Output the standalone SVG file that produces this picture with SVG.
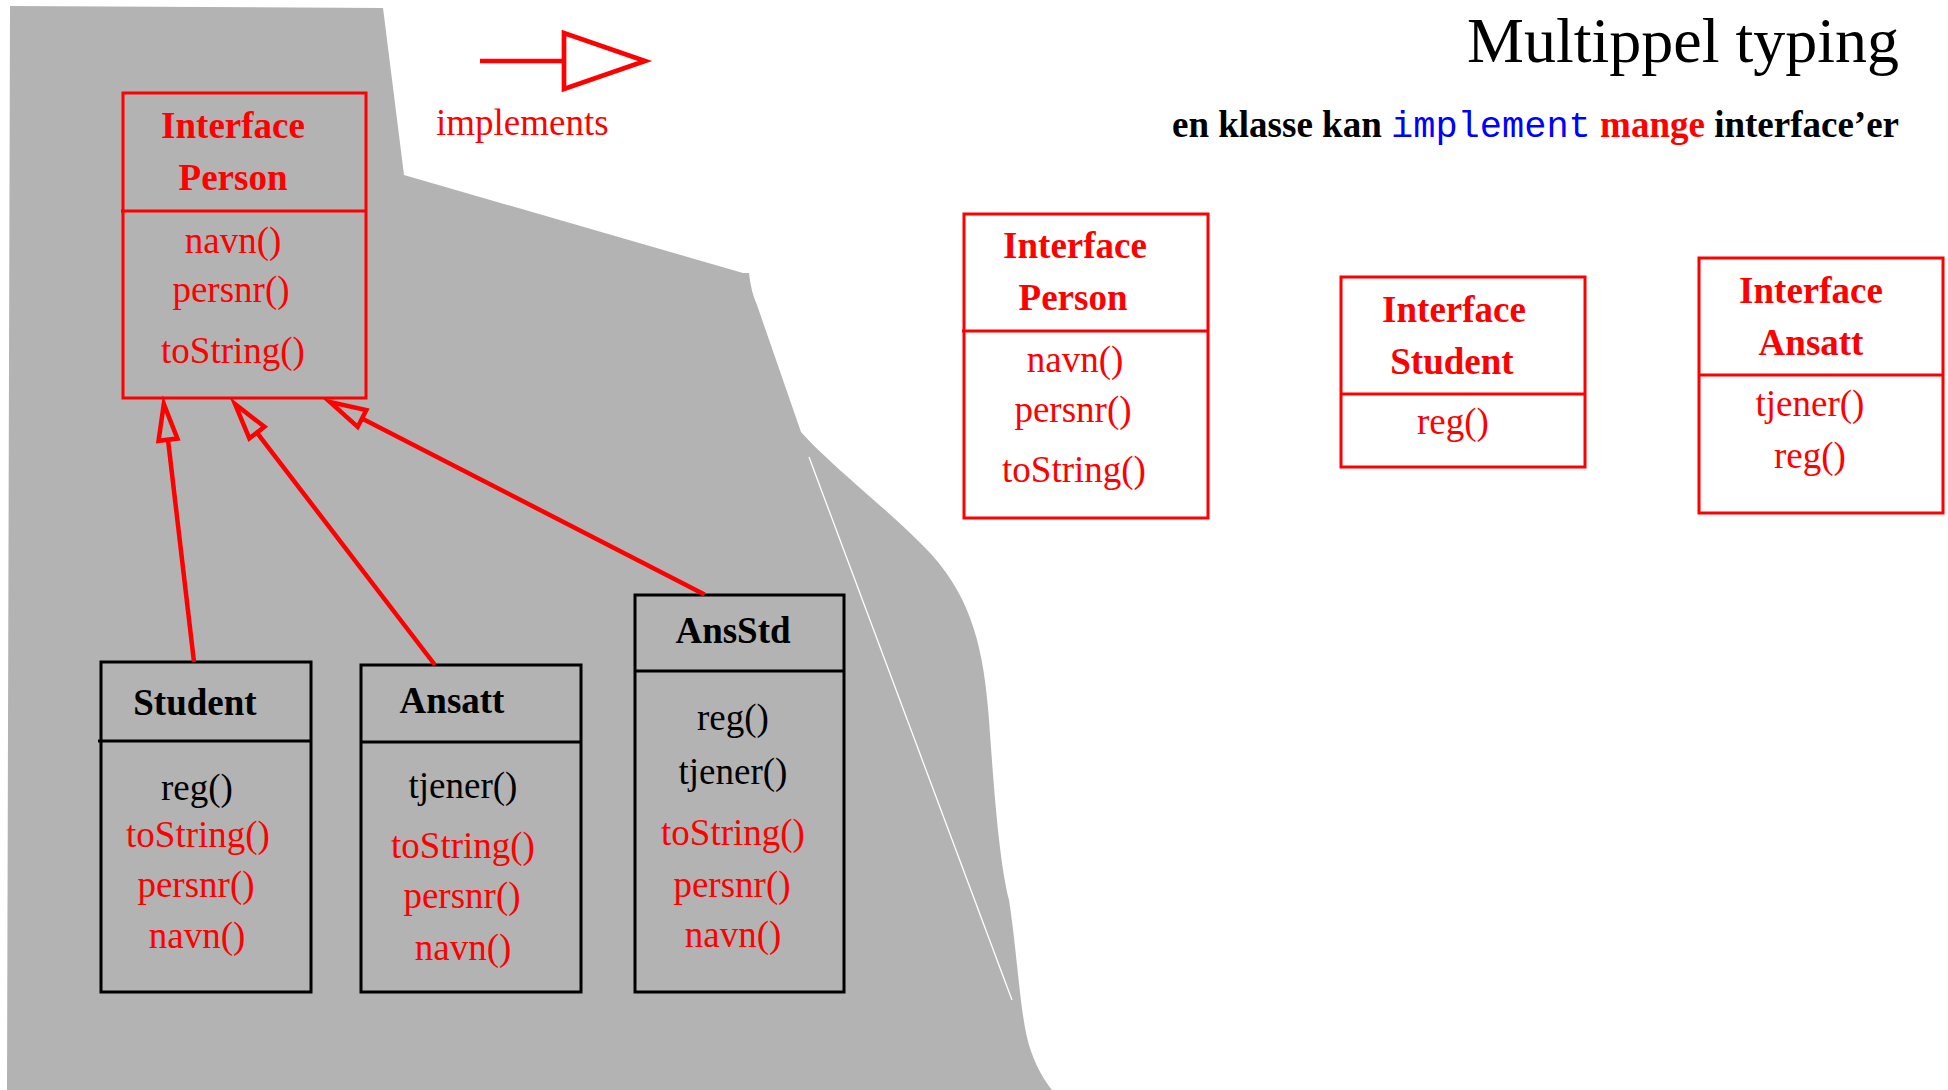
<svg xmlns="http://www.w3.org/2000/svg" width="1948" height="1090" viewBox="0 0 1948 1090">
  <style>
    text { font-family: "Liberation Serif", "Times New Roman", serif; font-size: 37px; }
    .c { text-anchor: middle; }
    .b { font-weight: bold; }
    .red { fill: #ff0000; }
    .blk { fill: #000000; }
    .ibox { fill: none; stroke: #ff0000; stroke-width: 3; }
    .iboxw { fill: #ffffff; stroke: #ff0000; stroke-width: 3; }
    .cbox { fill: none; stroke: #000000; stroke-width: 3; }
    .rdiv { stroke: #ff0000; stroke-width: 3; }
    .kdiv { stroke: #000000; stroke-width: 3; }
    .impl { fill: none; stroke: #ff0000; stroke-width: 4.5; }
  </style>
  <defs>
    <marker id="hollow" markerUnits="userSpaceOnUse" markerWidth="50" markerHeight="30" refX="0" refY="15" orient="auto" overflow="visible">
      <path d="M0,5.5 L36,15 L0,24.5 Z" fill="none" stroke="#ff0000" stroke-width="4.5" stroke-linejoin="miter"/>
    </marker>
  </defs>

  <rect width="1948" height="1090" fill="#ffffff"/>

  <!-- grey backdrop behind the class hierarchy -->
  <path d="M10,6 L383,8 L404,175 L743,273 L749,273 Q751,292 757,305 L801,432
           C830,465 895,515 932,555 C972,600 984,650 989,720
           C994,790 999,860 1009,900 C1017,950 1020,1015 1029,1045
           C1035,1065 1044,1080 1052,1090 L7,1090 Z" fill="#b3b3b3"/>
  <path d="M809,457 L1012,1000" stroke="#ffffff" stroke-width="1.3" fill="none"/>

  <!-- title -->
  <text x="1899" y="62" style="font-size:64px; text-anchor:end" class="blk">Multippel typing</text>
  <text x="1899" y="137" style="text-anchor:end" class="b"><tspan fill="#000000">en klasse kan </tspan><tspan fill="#0000ff" style="font-family:'Liberation Mono','Courier New',monospace; font-weight:normal">implement</tspan><tspan fill="#ff0000"> mange </tspan><tspan fill="#000000">interface’er</tspan></text>

  <!-- legend -->
  <g id="legend">
    <line x1="480" y1="61" x2="564" y2="61" stroke="#ff0000" stroke-width="4.7"/>
    <polygon points="564,33 564,89 645,61" fill="none" stroke="#ff0000" stroke-width="4.7"/>
    <text x="436" y="135" class="red">implements</text>
  </g>

  <!-- interface Person (hierarchy) -->
  <g id="iperson-left">
    <rect x="123" y="93" width="243" height="305" class="ibox"/>
    <line x1="121" y1="211" x2="366" y2="211" class="rdiv"/>
    <text x="233" y="138" class="c b red">Interface</text>
    <text x="233" y="190" class="c b red">Person</text>
    <text x="233" y="253" class="c red">navn()</text>
    <text x="231" y="302" class="c red">persnr()</text>
    <text x="233" y="363" class="c red">toString()</text>
  </g>

  <!-- class Student -->
  <g id="student">
    <rect x="101" y="662" width="210" height="330" class="cbox"/>
    <line x1="98" y1="741" x2="311" y2="741" class="kdiv"/>
    <text x="195" y="715" class="c b blk">Student</text>
    <text x="197" y="800" class="c blk">reg()</text>
    <text x="198" y="847" class="c red">toString()</text>
    <text x="196" y="897" class="c red">persnr()</text>
    <text x="197" y="948" class="c red">navn()</text>
  </g>

  <!-- class Ansatt -->
  <g id="ansatt">
    <rect x="361" y="665" width="220" height="327" class="cbox"/>
    <line x1="361" y1="742" x2="581" y2="742" class="kdiv"/>
    <text x="452" y="713" class="c b blk">Ansatt</text>
    <text x="463" y="798" class="c blk">tjener()</text>
    <text x="463" y="858" class="c red">toString()</text>
    <text x="462" y="908" class="c red">persnr()</text>
    <text x="463" y="960" class="c red">navn()</text>
  </g>

  <!-- class AnsStd -->
  <g id="ansstd">
    <rect x="635" y="595" width="209" height="397" class="cbox"/>
    <line x1="635" y1="671" x2="844" y2="671" class="kdiv"/>
    <text x="733" y="643" class="c b blk">AnsStd</text>
    <text x="733" y="730" class="c blk">reg()</text>
    <text x="733" y="784" class="c blk">tjener()</text>
    <text x="733" y="845" class="c red">toString()</text>
    <text x="732" y="897" class="c red">persnr()</text>
    <text x="733" y="947" class="c red">navn()</text>
  </g>

  <!-- implements connectors -->
  <g id="connectors">
    <line x1="194" y1="662" x2="168" y2="439.7" class="impl" marker-end="url(#hollow)"/>
    <line x1="435" y1="665" x2="256.9" y2="432.6" class="impl" marker-end="url(#hollow)"/>
    <line x1="704.5" y1="594.5" x2="362" y2="418.5" class="impl" marker-end="url(#hollow)"/>
  </g>

  <!-- interface Person -->
  <g id="iperson">
    <rect x="964" y="214" width="244" height="304" class="iboxw"/>
    <line x1="962" y1="331" x2="1208" y2="331" class="rdiv"/>
    <text x="1075" y="258" class="c b red">Interface</text>
    <text x="1073" y="310" class="c b red">Person</text>
    <text x="1075" y="372" class="c red">navn()</text>
    <text x="1073" y="422" class="c red">persnr()</text>
    <text x="1074" y="482" class="c red">toString()</text>
  </g>

  <!-- interface Student -->
  <g id="istudent">
    <rect x="1341" y="277" width="244" height="190" class="iboxw"/>
    <line x1="1341" y1="394" x2="1585" y2="394" class="rdiv"/>
    <text x="1454" y="322" class="c b red">Interface</text>
    <text x="1452" y="374" class="c b red">Student</text>
    <text x="1453" y="434" class="c red">reg()</text>
  </g>

  <!-- interface Ansatt -->
  <g id="iansatt">
    <rect x="1699" y="258" width="244" height="255" class="iboxw"/>
    <line x1="1699" y1="375" x2="1943" y2="375" class="rdiv"/>
    <text x="1811" y="303" class="c b red">Interface</text>
    <text x="1811" y="355" class="c b red">Ansatt</text>
    <text x="1810" y="416" class="c red">tjener()</text>
    <text x="1810" y="468" class="c red">reg()</text>
  </g>
</svg>
